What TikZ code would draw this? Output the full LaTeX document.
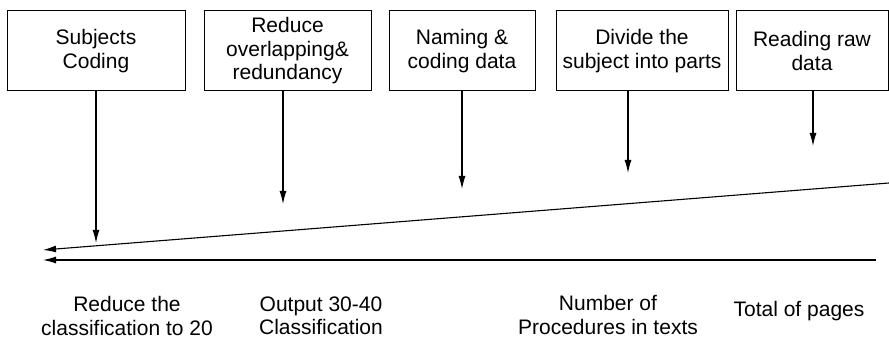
\documentclass[tikz,border=0pt]{standalone}
\usepackage{fontspec}
\setmainfont{Liberation Sans}
\usetikzlibrary{arrows.meta}
\begin{document}
\begin{tikzpicture}[x=1pt,y=-1pt,
  every node/.style={font=\fontsize{21}{23.5}\selectfont, inner sep=0pt},
  stepbox/.style={draw, line width=1pt, rectangle, align=center, minimum height=80pt},
  lbl/.style={align=center},
  arr/.style={line width=1.1pt, -{Latex[length=13pt,width=7pt]}}]
\useasboundingbox (0,0) rectangle (889,339);
% boxes
\node[stepbox, minimum width=178pt] (b1) at (96,51) {Subjects\\Coding};
\node[stepbox, minimum width=167pt] (b2) at (287.5,51) {Reduce\\overlapping\&\\redundancy};
\node[stepbox, minimum width=146pt] (b3) at (462,51) {Naming \&\\coding data};
\node[stepbox, minimum width=172pt] (b4) at (642,51) {Divide the\\subject into parts};
\node[stepbox, minimum width=152pt] (b5) at (812,51) {Reading raw\\data};
% arrow tips
\coordinate (t1) at (96,243);
\coordinate (t2) at (283,204);
\coordinate (t3) at (462,189);
\coordinate (t4) at (628,173);
\coordinate (t5) at (813,146);
\draw[arr] (b1.south -| t1) -- (t1);
\draw[arr] (b2.south -| t2) -- (t2);
\draw[arr] (b3.south -| t3) -- (t3);
\draw[arr] (b4.south -| t4) -- (t4);
\draw[arr] (b5.south -| t5) -- (t5);
% long lines
\coordinate (sR) at (889,183);
\coordinate (sL) at (43,250);
\coordinate (hR) at (876,260);
\coordinate (hL) at (43,260);
\draw[arr] (sR) -- (sL);
\draw[arr] (hR) -- (hL);
% labels
\node[lbl] (l1) at (127,316) {Reduce the\\classification to 20};
\node[lbl] (l2) at (321,316) {Output 30-40\\Classification};
\node[lbl] (l3) at (608,315) {Number of\\Procedures in texts};
\node[lbl] (l4) at (799,311) {Total of pages};
\end{tikzpicture}
\end{document}
